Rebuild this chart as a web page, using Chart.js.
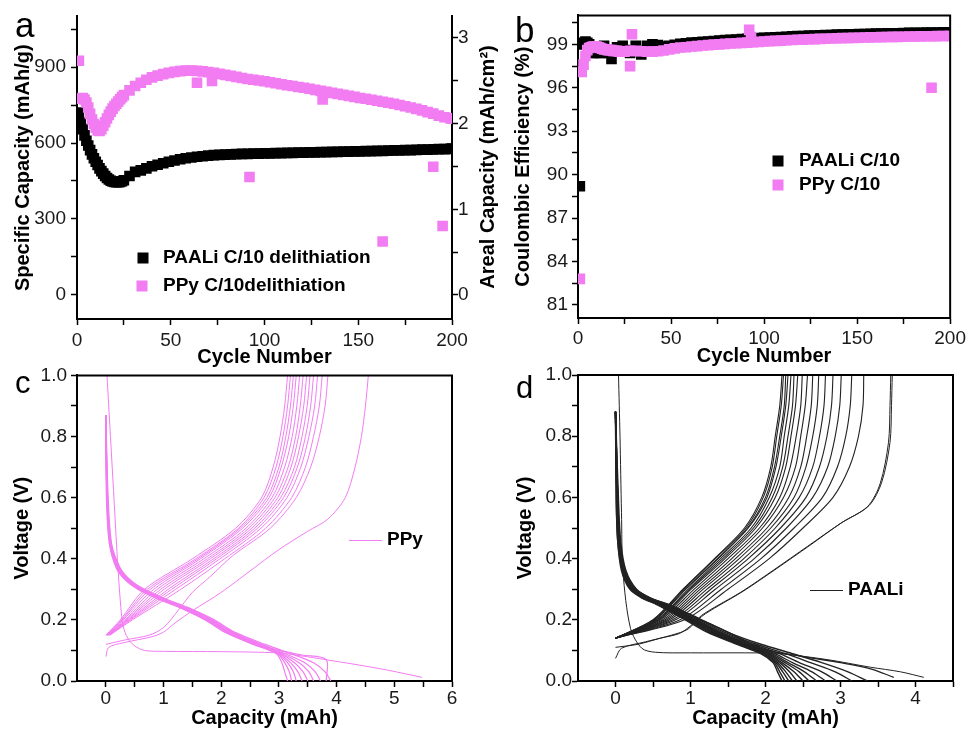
<!DOCTYPE html>
<html>
<head>
<meta charset="utf-8">
<title>PAALi vs PPy binder</title>
<script src="https://cdn.jsdelivr.net/npm/chart.js@4.4.1/dist/chart.umd.min.js"></script>
<style>
  html, body { margin: 0; padding: 0; background: #ffffff; }
  #page { position: relative; width: 969px; height: 731px; overflow: hidden; background: #ffffff; }
  canvas { position: absolute; }
</style>
</head>
<body>
<div id="page">
  <canvas id="chartA" width="500" height="370" style="left:0px;top:0px"></canvas>
  <canvas id="chartB" width="479" height="370" style="left:490px;top:0px"></canvas>
  <canvas id="chartC" width="490" height="371" style="left:0px;top:360px"></canvas>
  <canvas id="chartD" width="479" height="371" style="left:490px;top:360px"></canvas>
</div>
<script>
// ---------------- DATA ----------------
// Cycle numbers used for panels a and b
const cycles = [1,2,3,4,5,6,7,8,9,10,11,12,13,14,15,16,17,18,19,20,21,22,23,24,25,
  28,31,34,37,40,43,46,49,52,55,58,61,64,67,70,73,76,79,82,85,88,91,94,97,100,
  103,106,109,112,115,118,121,124,127,130,133,136,139,142,145,148,151,154,157,160,
  163,166,169,172,175,178,181,184,187,190,193,196,199,200];

// Panel a: specific capacity (mAh/g)
const aPAALi = [720,680,655,630,609,590,572,555,540,526,513,500,489,479,470,462,456,451,448,446,445,445,446,449,453,
  470,486,492,500,508,514,520,526,531,536,540,543,546,548,550,552,553,554,555,556,557,557,558,558,559,
  559,560,560,561,561,562,562,563,563,564,564,565,565,566,566,567,567,568,568,569,
  569,570,571,571,572,572,573,574,574,575,576,576,577,578];
const aPPy = [925,775,778,772,760,740,715,693,675,660,650,648,655,668,682,697,711,724,736,746,755,764,773,781,789,
  808,825,838,850,859,866,872,877,881,884,886,886,885,883,880,877,873,869,865,861,857,853,850,847,844,
  840,836,832,828,825,821,818,814,810,806,802,798,794,790,786,782,778,775,771,767,
  763,759,755,750,745,740,735,729,722,716,708,702,698,696];
const aPPyOutCycles = [64,72,92,131,163,190,195];
const aPPyOutValues = [838,845,466,772,211,506,272];

// Panel b: coulombic efficiency (%)
const bPAALi = [89.2,99.0,99.1,99.2,99.1,99.0,98.5,98.4,98.5,98.4,98.5,98.4,98.5,98.9,98.5,98.4,98.5,98.0,98.5,98.6,98.8,98.5,98.7,98.9,98.6,
  98.4,98.9,98.3,98.9,99.0,98.95,98.85,98.9,98.97,99.03,
  99.08,99.12,99.15,99.18,99.2,99.23,99.26,99.29,99.31,99.34,
  99.36,99.38,99.4,99.43,99.45,99.47,99.49,99.51,99.53,99.55,
  99.57,99.58,99.6,99.61,99.63,99.64,99.65,99.67,99.68,99.69,
  99.7,99.71,99.72,99.73,99.74,99.75,99.76,99.77,99.77,99.78,
  99.79,99.79,99.8,99.81,99.81,99.82,99.83,99.83,99.83];
const bPPy = [82.8,97.1,97.6,98.2,98.6,98.75,98.8,98.85,98.85,98.85,98.8,98.75,98.7,98.65,98.65,98.6,98.6,98.6,98.55,98.55,98.55,98.5,98.5,98.5,98.5,
  98.55,98.55,98.52,98.5,98.5,98.52,98.58,98.65,98.72,98.78,
  98.8,98.85,98.88,98.92,98.95,98.98,99.0,99.03,99.06,99.08,
  99.1,99.12,99.15,99.17,99.2,99.22,99.24,99.26,99.28,99.3,
  99.32,99.33,99.35,99.36,99.38,99.39,99.4,99.42,99.43,99.44,
  99.45,99.46,99.47,99.48,99.49,99.5,99.51,99.52,99.52,99.53,
  99.54,99.54,99.55,99.56,99.56,99.57,99.58,99.58,99.58];
const bPPyOutCycles = [28,29,92,93,190];
const bPPyOutValues = [97.5,99.7,100.0,99.5,96.0];

// Panel c: PPy voltage profiles (capacity mAh vs voltage V)
const cChargeV = [0.15,0.2,0.3,0.4,0.5,0.6,0.7,0.8,0.9,1.0];
const cChargeCap = [
  [0.00,0.25,0.67,1.50,2.25,2.70,2.90,3.02,3.10,3.15],
  [0.01,0.27,0.72,1.56,2.30,2.74,2.95,3.07,3.15,3.20],
  [0.01,0.28,0.77,1.60,2.33,2.79,3.00,3.12,3.20,3.25],
  [0.02,0.30,0.83,1.64,2.37,2.83,3.04,3.17,3.25,3.30],
  [0.02,0.33,0.89,1.70,2.43,2.88,3.10,3.23,3.31,3.36],
  [0.03,0.35,0.95,1.76,2.48,2.93,3.16,3.29,3.37,3.42],
  [0.04,0.37,1.01,1.81,2.53,2.98,3.21,3.34,3.43,3.48],
  [0.04,0.39,1.08,1.87,2.58,3.03,3.27,3.40,3.49,3.54],
  [0.05,0.41,1.14,1.92,2.63,3.08,3.32,3.46,3.55,3.60],
  [0.06,0.43,1.21,1.98,2.69,3.14,3.38,3.52,3.62,3.67],
  [0.07,0.46,1.30,2.06,2.77,3.22,3.46,3.60,3.70,3.75]
];
const cSecondChargeCap = [0.0,0.35,0.75,1.0,1.25,1.5,1.8,2.2,2.85,3.3,3.55,3.7,3.8,3.85];
const cSecondChargeV = [0.12,0.135,0.15,0.175,0.23,0.29,0.34,0.41,0.5,0.6,0.7,0.8,0.9,1.0];
const cFirstChargeCap = [0,0.05,0.3,0.8,1.0,1.2,1.5,2.0,2.5,3.0,3.5,3.85,4.15,4.32,4.43,4.5,4.55];
const cFirstChargeV = [0.08,0.11,0.125,0.145,0.16,0.19,0.23,0.29,0.36,0.43,0.49,0.53,0.6,0.7,0.8,0.9,1.0];
const cDisV = [0.87,0.6,0.45,0.37,0.33,0.3,0.27,0.24,0.2,0.16,0.12,0.09,0.06,0.03,0.0];
const cDisCap = [
  [0.00,0.01,0.06,0.18,0.34,0.55,0.88,1.28,1.72,2.06,2.55,2.95,3.05,3.10,3.15],
  [0.00,0.02,0.07,0.19,0.35,0.57,0.90,1.30,1.74,2.08,2.57,2.97,3.10,3.18,3.22],
  [0.00,0.02,0.07,0.20,0.36,0.58,0.92,1.32,1.75,2.10,2.59,2.98,3.15,3.25,3.30],
  [0.00,0.02,0.08,0.21,0.37,0.60,0.94,1.34,1.77,2.11,2.61,3.00,3.20,3.33,3.40],
  [0.00,0.03,0.08,0.22,0.38,0.61,0.95,1.36,1.79,2.13,2.63,3.02,3.27,3.42,3.50],
  [0.00,0.03,0.09,0.23,0.40,0.63,0.97,1.38,1.81,2.15,2.66,3.05,3.35,3.52,3.60],
  [0.00,0.03,0.09,0.24,0.41,0.65,0.99,1.40,1.84,2.18,2.70,3.10,3.45,3.63,3.72],
  [0.00,0.04,0.10,0.25,0.43,0.67,1.02,1.43,1.88,2.23,2.76,3.20,3.60,3.80,3.90]
];
const cSecondDisCap = [0.0,0.02,0.08,0.22,0.4,0.62,0.97,1.38,1.82,2.2,2.55,3.0,3.4,3.82,3.82];
const cSecondDisV = [0.8,0.6,0.45,0.37,0.33,0.3,0.27,0.24,0.2,0.16,0.125,0.1,0.085,0.07,0.0];
const cFirstDisCap = [0.02,0.08,0.14,0.2,0.26,0.3,0.38,0.5,0.67,1.0,2.0,2.98,3.4,3.8,4.3,4.9,5.48];
const cFirstDisV = [1.0,0.8,0.6,0.4,0.24,0.18,0.14,0.115,0.1,0.097,0.096,0.092,0.082,0.07,0.055,0.035,0.012];

// Panel d: PAALi voltage profiles
const dChargeV = [0.14,0.2,0.3,0.4,0.5,0.6,0.7,0.8,0.9,1.0];
const dChargeCap = [
  [0.00,0.50,0.90,1.32,1.72,1.95,2.07,2.13,2.19,2.22],
  [0.00,0.51,0.91,1.33,1.74,1.97,2.09,2.15,2.21,2.24],
  [0.00,0.52,0.93,1.36,1.76,2.00,2.12,2.19,2.25,2.27],
  [0.00,0.53,0.94,1.37,1.77,2.02,2.14,2.21,2.27,2.30],
  [0.00,0.55,0.97,1.40,1.81,2.05,2.19,2.25,2.31,2.34],
  [0.00,0.56,0.99,1.43,1.84,2.09,2.23,2.30,2.36,2.38],
  [0.00,0.58,1.01,1.46,1.87,2.13,2.27,2.34,2.40,2.43],
  [0.00,0.60,1.05,1.50,1.92,2.19,2.33,2.41,2.47,2.49],
  [0.00,0.63,1.09,1.55,1.96,2.24,2.40,2.47,2.53,2.56],
  [0.00,0.66,1.13,1.60,2.02,2.31,2.47,2.55,2.61,2.63],
  [0.00,0.69,1.17,1.65,2.07,2.38,2.54,2.63,2.69,2.71],
  [0.00,0.72,1.22,1.71,2.13,2.45,2.63,2.72,2.78,2.80],
  [0.00,0.76,1.27,1.77,2.20,2.54,2.72,2.82,2.88,2.90],
  [0.00,0.80,1.33,1.85,2.28,2.63,2.83,2.93,2.99,3.01],
  [0.00,0.86,1.41,1.94,2.38,2.76,2.96,3.07,3.13,3.15],
  [0.00,0.92,1.50,2.05,2.50,2.90,3.12,3.24,3.30,3.31]
];
const dFirstChargeCap = [0,0.08,0.4,0.75,0.97,1.15,1.67,2.11,2.56,3.0,3.36,3.53,3.64,3.66,3.67];
const dFirstChargeV = [0.074,0.107,0.128,0.15,0.17,0.215,0.29,0.363,0.44,0.515,0.57,0.646,0.78,0.9,1.0];
const dSecondChargeCap = [0,0.3,0.6,0.85,1.0,1.2,1.7,2.14,2.59,3.02,3.38,3.55,3.66,3.68,3.69];
const dSecondChargeV = [0.11,0.12,0.14,0.155,0.18,0.22,0.293,0.366,0.443,0.518,0.573,0.65,0.78,0.9,1.0];
const dDisV = [0.88,0.59,0.455,0.36,0.3,0.27,0.25,0.22,0.2,0.16,0.12,0.09,0.06,0.03,0.0];
const dDisCap = [
  [0.00,0.01,0.03,0.08,0.19,0.36,0.55,0.78,0.93,1.22,1.62,1.93,2.10,2.16,2.22],
  [0.00,0.01,0.03,0.09,0.20,0.37,0.56,0.79,0.95,1.24,1.64,1.95,2.12,2.19,2.26],
  [0.00,0.02,0.04,0.09,0.21,0.38,0.58,0.81,0.97,1.26,1.66,1.97,2.14,2.23,2.31],
  [0.00,0.02,0.04,0.10,0.21,0.39,0.59,0.83,0.99,1.28,1.68,1.99,2.16,2.27,2.36],
  [0.00,0.02,0.04,0.10,0.22,0.40,0.60,0.84,1.00,1.30,1.70,2.01,2.19,2.32,2.42],
  [0.00,0.02,0.05,0.11,0.23,0.41,0.61,0.85,1.02,1.32,1.72,2.03,2.22,2.38,2.50],
  [0.00,0.02,0.05,0.11,0.23,0.42,0.62,0.87,1.03,1.34,1.74,2.05,2.26,2.45,2.58],
  [0.00,0.03,0.05,0.12,0.24,0.43,0.64,0.88,1.05,1.36,1.76,2.08,2.30,2.52,2.68],
  [0.00,0.03,0.06,0.12,0.25,0.44,0.65,0.90,1.07,1.38,1.79,2.12,2.36,2.62,2.80],
  [0.00,0.03,0.06,0.13,0.26,0.45,0.67,0.92,1.09,1.41,1.83,2.18,2.45,2.75,2.95],
  [0.00,0.03,0.06,0.13,0.27,0.47,0.69,0.95,1.12,1.45,1.88,2.26,2.60,2.93,3.15],
  [0.00,0.04,0.07,0.14,0.28,0.48,0.71,0.98,1.15,1.49,1.94,2.35,2.75,3.10,3.36]
];
const dSecondDisCap = [0.0,0.03,0.06,0.13,0.27,0.47,0.69,0.96,1.14,1.5,1.93,2.5,3.0,3.4,3.71];
const dSecondDisV = [0.85,0.59,0.455,0.36,0.3,0.27,0.25,0.22,0.2,0.16,0.107,0.08,0.06,0.04,0.012];
const dFirstDisCap = [0.04,0.06,0.08,0.1,0.2,0.35,0.53,1.0,1.73,2.16,2.82,3.4,3.8,4.11];
const dFirstDisV = [1.0,0.8,0.55,0.357,0.172,0.107,0.094,0.092,0.092,0.09,0.07,0.045,0.03,0.012];

// Tick values and labelled ticks
const abXTicks = [0,25,50,75,100,125,150,175,200];
const abXTickLabels = [0,50,100,150,200];
const aLeftTicks = [0,150,300,450,600,750,900,1050];
const aLeftTickLabels = [0,300,600,900];
const aRightTicks = [0,0.5,1,1.5,2,2.5,3];
const aRightTickLabels = [0,1,2,3];
const bYTicks = [81,82.5,84,85.5,87,88.5,90,91.5,93,94.5,96,97.5,99,100.5];
const bYTickLabels = [81,84,87,90,93,96,99];
const cXTicks = [0,0.5,1,1.5,2,2.5,3,3.5,4,4.5,5,5.5,6];
const cXTickLabels = [0,1,2,3,4,5,6];
const dXTicks = [0,0.5,1,1.5,2,2.5,3,3.5,4,4.5];
const dXTickLabels = [0,1,2,3,4];
const vTicks = [0,0.1,0.2,0.3,0.4,0.5,0.6,0.7,0.8,0.9,1.0];
const vTickLabels = [0,0.2,0.4,0.6,0.8,1.0];

// ---------------- STYLE / HELPERS ----------------
const PINK = '#f27cf2';
const BLACK = '#000000';
const DLINE = '#222222';
const FONT = "'Liberation Sans', Arial, Helvetica, sans-serif";
Chart.defaults.font.family = FONT;
Chart.defaults.color = '#1a1a1a';
Chart.defaults.animation = false;

function pts(xs, ys) { return xs.map((x, i) => ({ x: x, y: ys[i] })); }

function squares(label, color, xs, ys, order) {
  return { label: label, data: pts(xs, ys), pointStyle: 'rect', pointRadius: 7.5, pointHoverRadius: 7.5,
    pointBorderWidth: 0, backgroundColor: color, borderColor: color, showLine: false, order: order };
}
function curve(label, color, xs, ys, width) {
  return { label: label, data: pts(xs, ys), showLine: true, borderColor: color, backgroundColor: color,
    borderWidth: width || 1, pointRadius: 0, pointHoverRadius: 0, tension: 0.3, fill: false };
}

function axis(o) {
  return {
    type: 'linear', position: o.pos, min: o.min, max: o.max,
    afterBuildTicks: (s) => { s.ticks = o.ticks.map(v => ({ value: v })); },
    afterFit: (s) => { if (o.pos === 'bottom') s.height = o.size; else s.width = o.size; },
    ticks: {
      autoSkip: false, maxRotation: 0, minRotation: 0, padding: o.pad, color: '#1a1a1a',
      font: { size: 19, family: FONT },
      callback: (v) => o.labels.some(l => Math.abs(l - v) < 1e-9) ? o.fmt(v) : ''
    },
    grid: { display: true, drawOnChartArea: false, drawTicks: true, tickLength: 6, tickColor: '#000', tickWidth: 1.5 },
    border: { display: true, color: '#000', width: 2 },
    title: o.title ? { display: true, text: o.title, color: '#000', font: { size: 20, weight: 'bold', family: FONT }, padding: o.tpad } : { display: false }
  };
}

function extras(cfg) {
  return {
    id: 'extras',
    afterDraw(chart) {
      const ctx = chart.ctx, ca = chart.chartArea;
      ctx.save();
      ctx.strokeStyle = '#000'; ctx.lineWidth = 2;
      if (cfg.frame) {
        ctx.beginPath();
        ctx.moveTo(ca.left - 1, ca.top); ctx.lineTo(ca.right, ca.top); ctx.lineTo(ca.right, ca.bottom + 1);
        ctx.stroke();
      }
      ctx.fillStyle = '#000';
      ctx.textAlign = 'left'; ctx.textBaseline = 'alphabetic';
      ctx.font = cfg.letterSize + 'px ' + FONT;
      ctx.fillText(cfg.letter, cfg.letterX, cfg.letterY);
      ctx.font = 'bold 19px ' + FONT;
      ctx.textBaseline = 'middle';
      (cfg.legend || []).forEach(it => {
        const ds = chart.data.datasets[it.ds];
        if (it.kind === 'rect') {
          ctx.fillStyle = ds.backgroundColor;
          ctx.fillRect(it.x - 5.5, it.y - 5.5, 11, 11);
        } else {
          ctx.strokeStyle = ds.borderColor; ctx.lineWidth = 1;
          ctx.beginPath(); ctx.moveTo(it.x, it.y + 0.5); ctx.lineTo(it.x2, it.y + 0.5); ctx.stroke();
        }
        ctx.fillStyle = '#000';
        ctx.fillText(ds.label, it.tx, it.y);
      });
      if (cfg.rightTitle) {
        ctx.translate(cfg.rightTitle.x, cfg.rightTitle.y);
        ctx.rotate(-Math.PI / 2);
        ctx.textAlign = 'center'; ctx.textBaseline = 'middle';
        ctx.font = 'bold 20px ' + FONT;
        ctx.fillStyle = '#000';
        ctx.fillText(cfg.rightTitle.text, 0, 0);
      }
      ctx.restore();
    }
  };
}

const baseOpts = (padding, scales) => ({
  responsive: false, animation: false, events: [],
  layout: { padding: padding },
  plugins: { legend: { display: false }, tooltip: { enabled: false } },
  scales: scales
});
const intFmt = v => String(Math.round(v));
const oneDec = v => v.toFixed(1);

// ---------------- PANEL A ----------------
new Chart(document.getElementById('chartA'), {
  type: 'scatter',
  data: { datasets: [
    squares('PAALi C/10 delithiation', BLACK, cycles, aPAALi, 3),
    squares('PPy C/10delithiation', PINK, cycles, aPPy, 2),
    squares('', PINK, aPPyOutCycles, aPPyOutValues, 1)
  ] },
  options: baseOpts({ left: 0, top: 15, right: 10, bottom: 0 }, {
    x: axis({ pos: 'bottom', min: 0, max: 200, ticks: abXTicks, labels: abXTickLabels, fmt: intFmt, pad: 4, size: 51,
      title: 'Cycle Number', tpad: { top: 0, bottom: 1 } }),
    y: axis({ pos: 'left', min: -95, max: 1100, ticks: aLeftTicks, labels: aLeftTickLabels, fmt: intFmt, pad: 5, size: 77,
      title: 'Specific Capacity (mAh/g)', tpad: { top: 11, bottom: 0 } }),
    y1: axis({ pos: 'right', min: -0.28, max: 3.25, ticks: aRightTicks, labels: aRightTickLabels, fmt: intFmt, pad: 0, size: 38 })
  }),
  plugins: [extras({ letter: 'a', letterX: 15, letterY: 37, letterSize: 35,
    legend: [ { kind: 'rect', ds: 0, x: 143, y: 258, tx: 163 }, { kind: 'rect', ds: 1, x: 142, y: 286, tx: 163 } ],
    rightTitle: { text: 'Areal Capacity (mAh/cm\u00B2)', x: 488, y: 167 } })]
});

// ---------------- PANEL B ----------------
new Chart(document.getElementById('chartB'), {
  type: 'scatter',
  data: { datasets: [
    squares('PAALi C/10', BLACK, cycles, bPAALi, 3),
    squares('PPy C/10', PINK, cycles, bPPy, 2),
    squares('', PINK, bPPyOutCycles, bPPyOutValues, 1)
  ] },
  options: baseOpts({ left: 0, top: 14, right: 16, bottom: 0 }, {
    x: axis({ pos: 'bottom', min: 0, max: 200, ticks: abXTicks, labels: abXTickLabels, fmt: intFmt, pad: 3, size: 52,
      title: 'Cycle Number', tpad: { top: 0, bottom: 2 } }),
    y: axis({ pos: 'left', min: 80.1, max: 101, ticks: bYTicks, labels: bYTickLabels, fmt: intFmt, pad: 4, size: 88,
      title: 'Coulombic Efficiency (%)', tpad: { top: 21, bottom: 0 } })
  }),
  plugins: [extras({ letter: 'b', letterX: 25, letterY: 42, letterSize: 35, frame: true,
    legend: [ { kind: 'rect', ds: 0, x: 288, y: 161, tx: 309 }, { kind: 'rect', ds: 1, x: 288, y: 185, tx: 309 } ] })]
});

// ---------------- PANEL C ----------------
const cSets = [];
cSets.push(curve('PPy', PINK, cFirstChargeCap, cFirstChargeV));
cSets.push(curve('', PINK, cFirstDisCap, cFirstDisV));
cSets.push(curve('', PINK, cSecondChargeCap, cSecondChargeV));
cSets.push(curve('', PINK, cSecondDisCap, cSecondDisV, 1.2));
cChargeCap.forEach(c => cSets.push(curve('', PINK, c, cChargeV)));
cDisCap.forEach(c => cSets.push(curve('', PINK, c, cDisV, 1.2)));
new Chart(document.getElementById('chartC'), {
  type: 'scatter',
  data: { datasets: cSets },
  options: baseOpts({ left: 0, top: 15, right: 38, bottom: 0 }, {
    x: axis({ pos: 'bottom', min: -0.5, max: 6, ticks: cXTicks, labels: cXTickLabels, fmt: intFmt, pad: 0, size: 50,
      title: 'Capacity (mAh)', tpad: { top: 0, bottom: 1 } }),
    y: axis({ pos: 'left', min: 0, max: 1, ticks: vTicks, labels: vTickLabels, fmt: oneDec, pad: 4, size: 77,
      title: 'Voltage (V)', tpad: { top: 10, bottom: 0 } })
  }),
  plugins: [extras({ letter: 'c', letterX: 15, letterY: 33, letterSize: 31, frame: true,
    legend: [ { kind: 'line', ds: 0, x: 349, x2: 382, y: 180, tx: 387 } ] })]
});

// ---------------- PANEL D ----------------
const dSets = [];
dSets.push(curve('PAALi', DLINE, dFirstChargeCap, dFirstChargeV));
dSets.push(curve('', DLINE, dFirstDisCap, dFirstDisV));
dSets.push(curve('', DLINE, dSecondChargeCap, dSecondChargeV));
dSets.push(curve('', DLINE, dSecondDisCap, dSecondDisV, 1.3));
dChargeCap.forEach(c => dSets.push(curve('', DLINE, c, dChargeV, 1.1)));
dDisCap.forEach(c => dSets.push(curve('', DLINE, c, dDisV, 1.4)));
new Chart(document.getElementById('chartD'), {
  type: 'scatter',
  data: { datasets: dSets },
  options: baseOpts({ left: 0, top: 15, right: 16, bottom: 0 }, {
    x: axis({ pos: 'bottom', min: -0.5, max: 4.5, ticks: dXTicks, labels: dXTickLabels, fmt: intFmt, pad: 0, size: 50,
      title: 'Capacity (mAh)', tpad: { top: 0, bottom: 1 } }),
    y: axis({ pos: 'left', min: 0, max: 1, ticks: vTicks, labels: vTickLabels, fmt: oneDec, pad: 0, size: 88,
      title: 'Voltage (V)', tpad: { top: 23, bottom: 0 } })
  }),
  plugins: [extras({ letter: 'd', letterX: 26, letterY: 38, letterSize: 31, frame: true,
    legend: [ { kind: 'line', ds: 0, x: 320, x2: 353, y: 230, tx: 358 } ] })]
});
</script>
</body>
</html>
